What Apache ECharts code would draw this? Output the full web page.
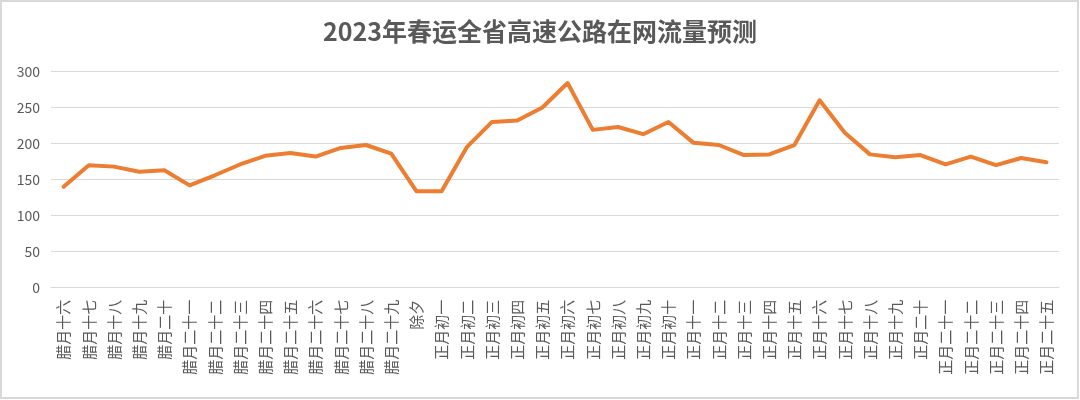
<!DOCTYPE html>
<html>
<head>
<meta charset="utf-8">
<script src="https://cdn.jsdelivr.net/npm/echarts@6/dist/echarts.min.js"></script>
<style>
html,body{margin:0;padding:0;background:#fff;}
#chart{width:1080px;height:400px;}
</style>
</head>
<body>
<div id="chart"></div>
<script>
const titleText = '2023年春运全省高速公路在网流量预测';
const categories = ['腊月十六','腊月十七','腊月十八','腊月十九','腊月二十','腊月二十一','腊月二十二','腊月二十三','腊月二十四','腊月二十五','腊月二十六','腊月二十七','腊月二十八','腊月二十九','除夕','正月初一','正月初二','正月初三','正月初四','正月初五','正月初六','正月初七','正月初八','正月初九','正月初十','正月十一','正月十二','正月十三','正月十四','正月十五','正月十六','正月十七','正月十八','正月十九','正月二十','正月二十一','正月二十二','正月二十三','正月二十四','正月二十五'];
const flow = [140,170,168,161,163,142,156,171,183,187,182,194,198,186,134,134,195,230,232,250,284,219,223,213,230,201,198,184,185,198,260,215,185,181,184,171,182,170,180,174];
const yTicks = {min:0, max:300, interval:50};

const chart = echarts.init(document.getElementById('chart'));
chart.setOption({
  backgroundColor:'#fff',
  animation:false,
  title:{
    text:titleText, left:'center', top:14,
    textStyle:{fontFamily:'"Noto Sans CJK SC", sans-serif', fontSize:25, fontWeight:'bold', color:'#595959'}
  },
  graphic:[{type:'rect', shape:{x:1,y:1,width:1077,height:397}, style:{fill:'none', stroke:'#d9d9d9', lineWidth:2}, silent:true}],
  grid:{left:51, right:21, top:71.5, bottom:112.3},
  xAxis:{
    type:'category', data:categories, boundaryGap:true,
    axisLine:{show:true, lineStyle:{color:'#d9d9d9', width:1}},
    axisTick:{show:false},
    axisLabel:{rotate:90, interval:0, margin:12, color:'#595959', fontSize:15, fontFamily:'"Noto Sans CJK SC", sans-serif'}
  },
  yAxis:{
    type:'value', min:yTicks.min, max:yTicks.max, interval:yTicks.interval,
    axisLine:{show:false}, axisTick:{show:false},
    axisLabel:{color:'#595959', fontSize:14, margin:11, fontFamily:'"Noto Sans CJK SC", sans-serif'},
    splitLine:{lineStyle:{color:'#d9d9d9', width:1}}
  },
  series:[{
    type:'line', data:flow, symbol:'none',
    lineStyle:{color:'#ED7D31', width:4, join:'round', cap:'round'}
  }]
});
</script>
</body>
</html>
